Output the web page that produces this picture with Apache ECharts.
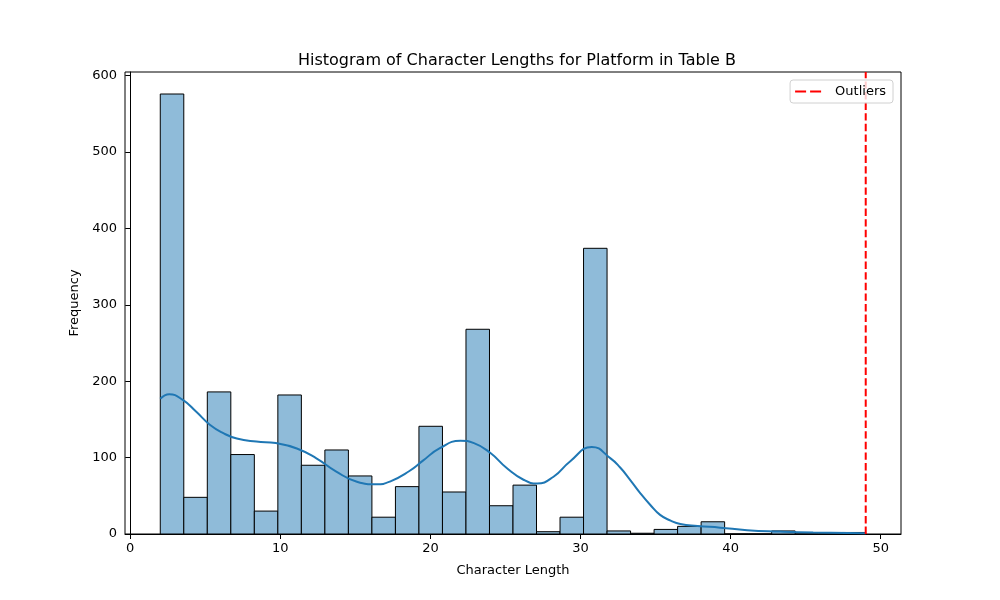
<!DOCTYPE html>
<html>
<head>
<meta charset="utf-8">
<script src="https://cdn.jsdelivr.net/npm/echarts@6/dist/echarts.min.js"></script>
<style>
  html, body { margin: 0; padding: 0; background: #fff; }
  #chart { width: 1000px; height: 600px; }
</style>
</head>
<body>
<div id="chart"></div>
<script>
// histogram: 30 bins between min and max character length
const binMin = 2
const binMax = 49
const counts = [576, 48, 186, 104, 30, 182, 90, 110, 76, 22,
                62, 141, 55, 268, 37, 64, 3, 22, 374, 4,
                1, 6, 10, 16, 0, 0, 4, 0, 0, 2]

// kde curve
const kdeX = [2, 2.6, 3.5, 4.4, 5.3, 6.2, 7.1, 8.4, 9.7, 11.1, 12.4, 13.7, 15.1, 16.4, 17.3, 18.6, 19.5, 20.6, 22, 22.9,
              24, 25.1, 26.2, 27.1, 28.2, 29.3, 30.75, 32, 32.64, 33.3, 34, 34.65, 35.3, 36, 36.65, 37.8, 39.3, 41.1, 43.3, 45.5, 49]
const kdeY = [177, 183, 175.5, 160, 143, 132, 125, 121, 119, 112, 99, 82, 68.5, 65, 68.6, 82.5, 96, 112, 122, 119,
              106, 86, 71, 66, 75, 95, 114, 99, 87, 71, 53, 38, 25, 17.5, 13, 10.5, 8.3, 5, 3.2, 2, 1]

const outlierX = 49
const xTicks = [0, 10, 20, 30, 40, 50]
const yTicks = [0, 100, 200, 300, 400, 500, 600]

const binWidth = (binMax - binMin) / counts.length
const bins = counts.map((c, i) => [binMin + i * binWidth, binMin + (i + 1) * binWidth, c])
const kdeData = kdeX.map((x, i) => [x, kdeY[i]])

const xPad = (binMax - binMin) * 0.05
const yMax = Math.max(...counts) * 1.05

const font = 'DejaVu Sans'

var chart = echarts.init(document.getElementById('chart'))
chart.setOption({
  animation: false,
  textStyle: { fontFamily: font },
  title: {
    text: 'Histogram of Character Lengths for Platform in Table B',
    left: 512, top: 48, textAlign: 'center',
    textStyle: { fontFamily: font, fontSize: 16, fontWeight: 'normal', color: '#000' }
  },
  legend: {
    data: [{
      name: 'Outliers',
      icon: 'path://M0,0h11v2h-11zM15,0h11v2h-11z',
      itemStyle: { color: '#ff0000', borderWidth: 0 }
    }],
    z: 10,
    right: 107, top: 80,
    padding: [5, 7, 5, 5],
    itemWidth: 26, itemHeight: 3,
    backgroundColor: 'rgba(255,255,255,0.8)',
    borderColor: '#d0d0d0', borderWidth: 1, borderRadius: 3,
    textStyle: { fontFamily: font, fontSize: 13, color: '#000', padding: [0, 0, 0, 9] }
  },
  grid: {
    left: 125, right: 99, top: 72, bottom: 66,
    show: true, borderColor: '#000', borderWidth: 1, backgroundColor: 'transparent'
  },
  xAxis: {
    type: 'value',
    min: binMin - xPad, max: binMax + xPad,
    name: 'Character Length', nameLocation: 'middle', nameGap: 30,
    nameTextStyle: { fontFamily: font, fontSize: 13, color: '#000' },
    splitLine: { show: false },
    axisLine: { show: true, onZero: false, lineStyle: { color: '#000', width: 1 } },
    axisTick: { show: true, customValues: xTicks, length: 5, lineStyle: { color: '#000' } },
    axisLabel: { customValues: xTicks, margin: 8, fontFamily: font, fontSize: 13, color: '#000' }
  },
  yAxis: {
    type: 'value',
    min: 0, max: yMax,
    name: 'Frequency', nameLocation: 'middle', nameGap: 44,
    nameTextStyle: { fontFamily: font, fontSize: 13, color: '#000' },
    splitLine: { show: false },
    axisLine: { show: true, lineStyle: { color: '#000', width: 1 } },
    axisTick: { show: true, customValues: yTicks, length: 5, lineStyle: { color: '#000' } },
    axisLabel: { customValues: yTicks, margin: 8, fontFamily: font, fontSize: 13, color: '#000' }
  },
  series: [
    {
      type: 'custom',
      name: 'counts',
      data: bins,
      encode: { x: [0, 1], y: 2 },
      renderItem(params, api) {
        var p0 = api.coord([api.value(0), api.value(2)])
        var p1 = api.coord([api.value(1), 0])
        return {
          type: 'rect',
          shape: { x: p0[0], y: p0[1], width: p1[0] - p0[0], height: p1[1] - p0[1] },
          style: { fill: '#8fbbd9', stroke: '#000', lineWidth: 1 }
        }
      },
      z: 2
    },
    {
      type: 'line',
      name: 'kde',
      data: kdeData,
      smooth: 0.5,
      showSymbol: false,
      lineStyle: { color: '#1f77b4', width: 2 },
      z: 3
    },
    {
      type: 'line',
      name: 'Outliers',
      data: [[outlierX, 0], [outlierX, yMax]],
      showSymbol: false,
      symbol: 'none',
      color: '#ff0000',
      lineStyle: { color: '#ff0000', width: 2, type: [7.4, 3.2] },
      z: 4
    }
  ]
})
</script>
</body>
</html>
